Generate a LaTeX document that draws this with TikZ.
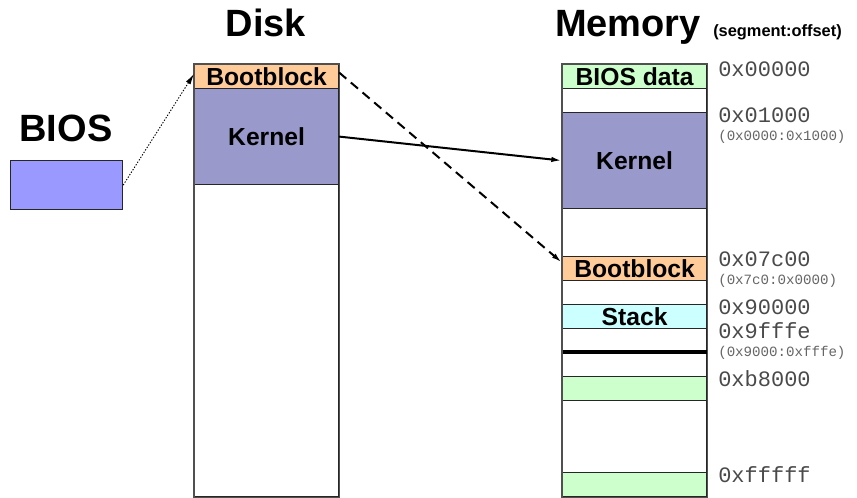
\documentclass[tikz,border=0pt]{standalone}
\usepackage{fontspec}
\setmainfont{Liberation Sans}
\newfontfamily\monofont{Liberation Mono}
\usetikzlibrary{arrows.meta}
\definecolor{bootc}{HTML}{FFCC99}
\definecolor{kernc}{HTML}{9999CC}
\definecolor{biosc}{HTML}{9999FF}
\definecolor{greenc}{HTML}{CCFFCC}
\definecolor{stackc}{HTML}{CCFFFF}
\definecolor{edgec}{HTML}{505050}
\definecolor{addrc}{HTML}{4A4A4A}
\begin{document}
\begin{tikzpicture}[x=0.75pt,y=-0.75pt,
  region/.style={draw=black!85,line width=0.9pt,rectangle,inner sep=0pt,anchor=north west,
    minimum width=108pt,font=\bfseries\fontsize{18.5}{20}\selectfont},
  title/.style={anchor=base,font=\bfseries\fontsize{28.5}{30}\selectfont},
  addr/.style={anchor=west,inner sep=0pt,text=addrc,font=\monofont\fontsize{16.5}{17}\selectfont},
  saddr/.style={anchor=west,inner sep=0pt,text=addrc!85,text depth=0pt,font=\monofont\fontsize{10.6}{11}\selectfont},
  tip/.style={-{Latex[length=8pt,width=4pt]}}]
\useasboundingbox (0,0) rectangle (857,498);
% titles
\node[title] (tdisk) at (266,37) {Disk};
\node[title] (tmem) at (628,37) {Memory};
\node[anchor=base west,inner sep=0pt,font=\bfseries\fontsize{12.3}{13}\selectfont] (tseg) at (713,37) {(segment:offset)};
\node[title] (tbios) at (66,142) {BIOS};
% BIOS box
\node[region,fill=biosc,minimum width=84pt,minimum height=36.75pt] (biosbox) at (10,160) {};
% Disk
\node[region,fill=bootc,minimum height=18pt] (dboot) at (194,64) {Bootblock};
\node[region,fill=kernc,minimum height=72pt] (dkern) at (194,88) {Kernel};
\node[region,fill=white,minimum height=234pt] (drest) at (194,184) {};
\draw[edgec,line width=1pt] (dboot.north west) rectangle (drest.south east);
% Memory
\node[region,fill=greenc,minimum height=18pt] (mbios) at (562,64) {BIOS data};
\node[region,fill=white,minimum height=18pt] (m1) at (562,88) {};
\node[region,fill=kernc,minimum height=72pt] (mkern) at (562,112) {Kernel};
\node[region,fill=white,minimum height=36pt] (m2) at (562,208) {};
\node[region,fill=bootc,minimum height=18pt] (mboot) at (562,256) {Bootblock};
\node[region,fill=white,minimum height=18pt] (m3) at (562,280) {};
\node[region,fill=stackc,minimum height=18pt] (mstack) at (562,304) {Stack};
\node[region,fill=white,minimum height=18pt] (m4) at (562,328) {};
\node[region,fill=white,minimum height=18pt] (m5) at (562,352) {};
\node[region,fill=greenc,minimum height=18pt] (m6) at (562,376) {};
\node[region,fill=white,minimum height=54pt] (m7) at (562,400) {};
\node[region,fill=greenc,minimum height=18pt] (m8) at (562,472) {};
\draw[black,line width=2.3pt] (m5.north west) -- (m5.north east);
\draw[edgec,line width=1pt] (mbios.north west) rectangle (m8.south east);
% addresses
\node[addr] (a1) at (718,69) {0x00000};
\node[addr] (a2) at (718,115) {0x01000};
\node[saddr] (s2) at (718,135) {(0x0000:0x1000)};
\node[addr] (a3) at (718,259) {0x07c00};
\node[saddr] (s3) at (718,279) {(0x7c0:0x0000)};
\node[addr] (a4) at (718,307) {0x90000};
\node[addr] (a5) at (718,331) {0x9fffe};
\node[saddr] (s5) at (718,351) {(0x9000:0xfffe)};
\node[addr] (a6) at (718,379) {0xb8000};
\node[addr] (a7) at (718,475) {0xfffff};
% connectors
\draw[tip,line width=0.7pt,dash pattern=on 1pt off 1.2pt] (biosbox.east) -- ([yshift=2pt]dboot.west);
\draw[tip,line width=1.5pt] (dkern.east) -- (mkern.west);
\draw[tip,line width=1.5pt,dash pattern=on 7pt off 4.5pt] ([yshift=3pt]dboot.east) -- ([yshift=4.5pt]mboot.west);
\end{tikzpicture}
\end{document}
